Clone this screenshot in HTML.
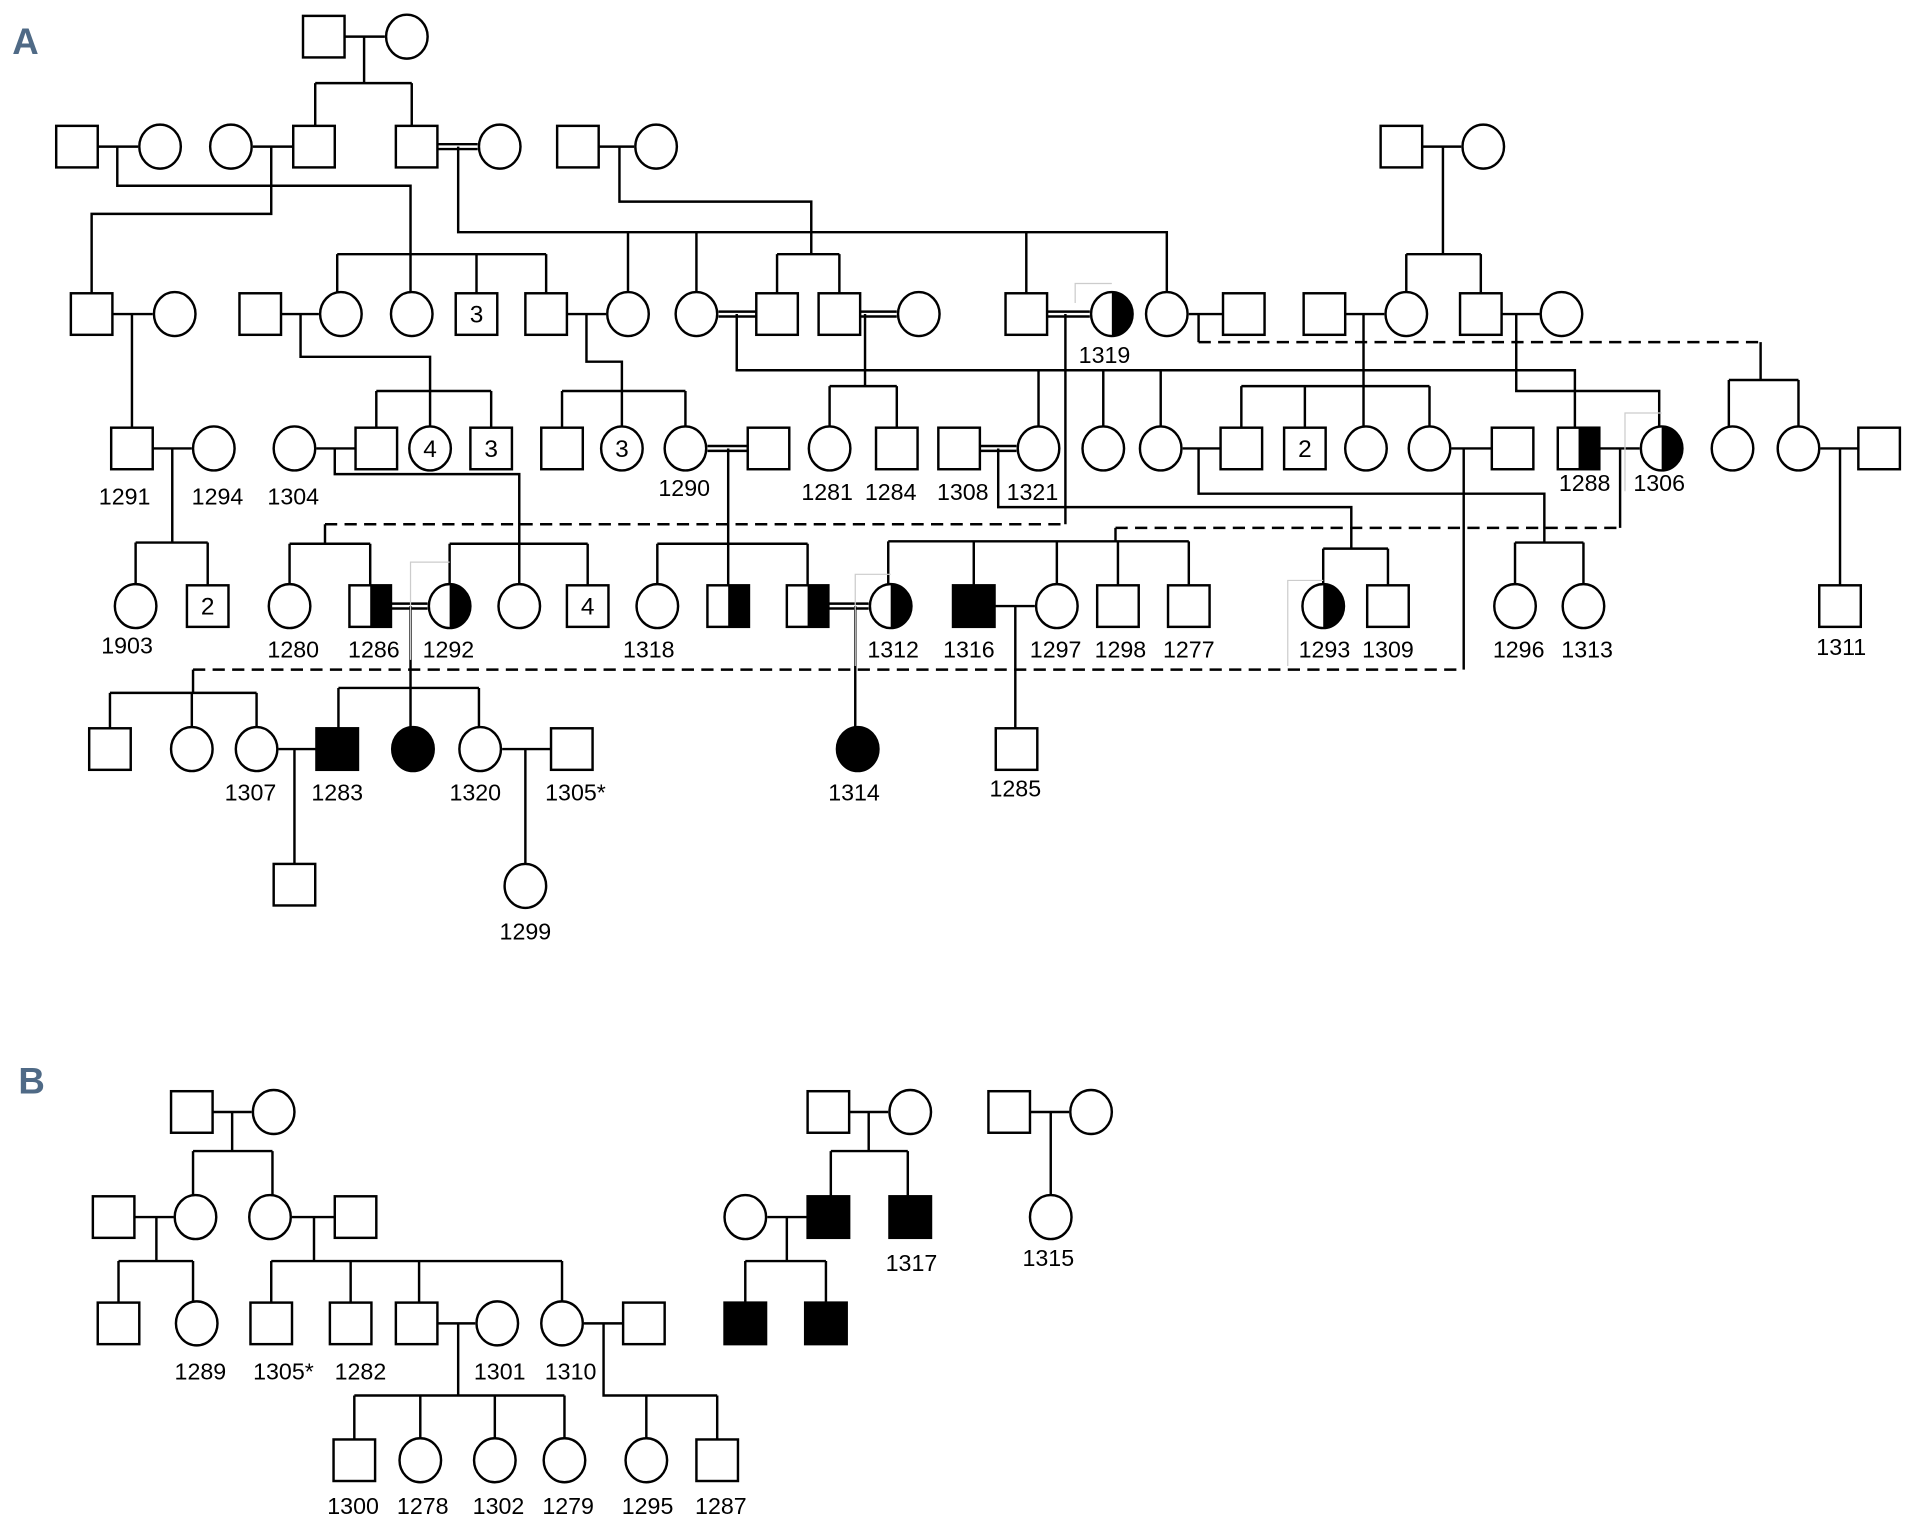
<!DOCTYPE html>
<html><head><meta charset="utf-8"><style>
html,body{margin:0;padding:0;background:#fff}
svg{display:block}
text{font-family:"Liberation Sans Narrow","Liberation Sans",sans-serif;font-size:19px;fill:#000}
.n{text-anchor:middle}
.c{text-anchor:middle;font-size:20px}
.lbl{font-family:"Liberation Sans Narrow","Liberation Sans",sans-serif;font-weight:bold;font-size:30px;fill:#4f6a86}
</style></head><body>
<svg width="1906" height="1525" viewBox="0 0 1560 1248" preserveAspectRatio="none" xmlns="http://www.w3.org/2000/svg">
<defs>
<rect id="s" x="-17" y="-17" width="34" height="34" fill="#fff" stroke="#000" stroke-width="2"/>
<rect id="sf" x="-17" y="-17" width="34" height="34" fill="#000" stroke="#000" stroke-width="2"/>
<ellipse id="c" rx="17" ry="18" fill="#fff" stroke="#000" stroke-width="2"/>
<ellipse id="cf" rx="17" ry="18" fill="#000" stroke="#000" stroke-width="2"/>
<g id="sh"><rect x="-17" y="-17" width="34" height="34" fill="#fff" stroke="#000" stroke-width="2"/><rect x="0" y="-17" width="17" height="34" fill="#000"/></g>
<g id="ch"><ellipse rx="17" ry="18" fill="#fff" stroke="#000" stroke-width="2"/><path d="M0,-18 A17,18 0 0 1 0,18 Z" fill="#000"/></g>
</defs>
<text class="lbl" x="10" y="44">A</text>
<text class="lbl" x="15" y="895">B</text>
<g stroke="#000" stroke-width="2" fill="none">
<!-- row0 -->
<path d="M282,30H315M298,30V68M258,68H337M258,68V103M337,68V103"/>
<!-- row1 couples -->
<path d="M80,120H113M207,120H240M490,120H519M1164,120H1196"/>
<path d="M358,118H391M358,122H391"/>
<path d="M96,120V152H336V239M222,120V175H75V240"/>
<path d="M375,120V190H955V239M514,190V240M570,190V240M840,190V240"/>
<path d="M507,120V165H664V208M636,208H687M636,208V240M687,208V240"/>
<path d="M276,208H447M276,208V240M390,208V240M447,208V240"/>
<path d="M1181,120V208M1151,208H1212M1151,208V240M1212,208V240"/>
<!-- row2 couples -->
<path d="M92,257H125M230,257H261M464,257H496M973,257H1001M1101,257H1133M1229,257H1260"/>
<path d="M588,255H619M588,259H619M704,255H734M704,259H734M857,255H892M857,259H892"/>
<path d="M108,257V350"/>
<path d="M246,257V292H352V320M308,320H402M308,320V350M352,320V349M402,320V350"/>
<path d="M480,257V296H509V320M460,320H561M460,320V350M509,320V349M561,320V349"/>
<path d="M603,257V303H1289V350M850,303V349M903,303V349M950,303V349"/>
<path d="M708,257V316M679,316H734M679,316V349M734,316V350"/>
<path d="M872,257V429"/>
<path d="M266,429H872" stroke-dasharray="10,6"/>
<path d="M266,429V445M237,445H303M237,445V478M303,445V479"/>
<path d="M981,257V280"/>
<path d="M981,280H1441" stroke-dasharray="10,6"/>
<path d="M1441,280V311M1415,311H1472M1415,311V349M1472,311V349"/>
<path d="M1116,257V349M1016,316H1170M1016,316V350M1068,316V350M1170,316V349"/>
<path d="M1241,257V320H1358V349"/>
<!-- row3 couples -->
<path d="M125,367H157M259,367H291M968,367H999M1188,367H1221M1309,367H1342M1490,367H1521"/>
<path d="M579,365H612M579,369H612M802,365H832M802,369H832"/>
<path d="M141,367V444M111,444H170M111,444V478M170,444V479"/>
<path d="M274,367V388H425V478M368,445H481M368,445V478M481,445V479"/>
<path d="M596,367V479M538,445H661M538,445V478M661,445V479"/>
<path d="M817,367V415H1106V449M1083,449H1136M1083,449V478M1136,449V479"/>
<path d="M981,367V404H1264V444M1240,444H1296M1240,444V478M1296,444V478"/>
<path d="M1198,367V548"/>
<path d="M158,548H1198" stroke-dasharray="10,6"/>
<path d="M158,548V567M90,567H210M90,567V596M157,567V595M210,567V595"/>
<path d="M1326,367V432"/>
<path d="M913,432H1326" stroke-dasharray="10,6"/>
<path d="M913,432V443M727,443H973M727,443V478M797,443V479M865,443V478M915,443V479M973,443V479"/>
<path d="M1506,367V479"/>
<!-- row4 -->
<path d="M320,494H350M320,498H350M678,494H711M678,498H711M814,496H847"/>
<path d="M336,496V595M277,563H392M277,563V596M392,563V595"/>
<path d="M700,496V595M831,496V596"/>
<!-- row5 -->
<path d="M228,613H259M411,613H451M241,613V707M430,613V707"/>
<!-- panel B -->
<path d="M174,910H206M695,910H727M843,910H875"/>
<path d="M190,910V942M158,942H223M158,942V978M223,942V978"/>
<path d="M711,910V942M680,942H743M680,942V979M743,942V979"/>
<path d="M860,910V978"/>
<path d="M110,996H142M239,996H274M628,996H661"/>
<path d="M128,996V1032M97,1032H158M97,1032V1066M158,1032V1065"/>
<path d="M257,996V1032M222,1032H460M222,1032V1066M287,1032V1066M343,1032V1066M460,1032V1065"/>
<path d="M644,996V1032M610,1032H676M610,1032V1066M676,1032V1066"/>
<path d="M358,1083H389M478,1083H510"/>
<path d="M375,1083V1142M290,1142H462M290,1142V1178M344,1142V1177M405,1142V1177M462,1142V1177"/>
<path d="M494,1083V1142H587M529,1142V1177M587,1142V1178"/>
</g>
<!-- faint boxes -->
<g stroke="#ccc" stroke-width="1" fill="none">
<path d="M880,248V232H910"/><path d="M1330,402V338H1360"/><path d="M336,540V460H368"/><path d="M700,545V470H729"/><path d="M1054,545V475H1083"/>
</g>
<!-- shapes -->
<use href="#s" x="265" y="30"/><use href="#c" x="333" y="30"/>
<use href="#s" x="63" y="120"/><use href="#c" x="131" y="120"/><use href="#c" x="189" y="120"/><use href="#s" x="257" y="120"/><use href="#s" x="341" y="120"/><use href="#c" x="409" y="120"/><use href="#s" x="473" y="120"/><use href="#c" x="537" y="120"/><use href="#s" x="1147" y="120"/><use href="#c" x="1214" y="120"/>
<use href="#s" x="75" y="257"/><use href="#c" x="143" y="257"/><use href="#s" x="213" y="257"/><use href="#c" x="279" y="257"/><use href="#c" x="337" y="257"/><use href="#s" x="390" y="257"/><use href="#s" x="447" y="257"/><use href="#c" x="514" y="257"/><use href="#c" x="570" y="257"/><use href="#s" x="636" y="257"/><use href="#s" x="687" y="257"/><use href="#c" x="752" y="257"/><use href="#s" x="840" y="257"/><use href="#ch" x="910" y="257"/><use href="#c" x="955" y="257"/><use href="#s" x="1018" y="257"/><use href="#s" x="1084" y="257"/><use href="#c" x="1151" y="257"/><use href="#s" x="1212" y="257"/><use href="#c" x="1278" y="257"/>
<use href="#s" x="108" y="367"/><use href="#c" x="175" y="367"/><use href="#c" x="241" y="367"/><use href="#s" x="308" y="367"/><use href="#c" x="352" y="367"/><use href="#s" x="402" y="367"/><use href="#s" x="460" y="367"/><use href="#c" x="509" y="367"/><use href="#c" x="561" y="367"/><use href="#s" x="629" y="367"/><use href="#c" x="679" y="367"/><use href="#s" x="734" y="367"/><use href="#s" x="785" y="367"/><use href="#c" x="850" y="367"/><use href="#c" x="903" y="367"/><use href="#c" x="950" y="367"/><use href="#s" x="1016" y="367"/><use href="#s" x="1068" y="367"/><use href="#c" x="1118" y="367"/><use href="#c" x="1170" y="367"/><use href="#s" x="1238" y="367"/><use href="#sh" x="1292" y="367"/><use href="#ch" x="1360" y="367"/><use href="#c" x="1418" y="367"/><use href="#c" x="1472" y="367"/><use href="#s" x="1538" y="367"/>
<use href="#c" x="111" y="496"/><use href="#s" x="170" y="496"/><use href="#c" x="237" y="496"/><use href="#sh" x="303" y="496"/><use href="#ch" x="368" y="496"/><use href="#c" x="425" y="496"/><use href="#s" x="481" y="496"/><use href="#c" x="538" y="496"/><use href="#sh" x="596" y="496"/><use href="#sh" x="661" y="496"/><use href="#ch" x="729" y="496"/><use href="#sf" x="797" y="496"/><use href="#c" x="865" y="496"/><use href="#s" x="915" y="496"/><use href="#s" x="973" y="496"/><use href="#ch" x="1083" y="496"/><use href="#s" x="1136" y="496"/><use href="#c" x="1240" y="496"/><use href="#c" x="1296" y="496"/><use href="#s" x="1506" y="496"/>
<use href="#s" x="90" y="613"/><use href="#c" x="157" y="613"/><use href="#c" x="210" y="613"/><use href="#sf" x="276" y="613"/><use href="#cf" x="338" y="613"/><use href="#c" x="393" y="613"/><use href="#s" x="468" y="613"/><use href="#cf" x="702" y="613"/><use href="#s" x="832" y="613"/>
<use href="#s" x="241" y="724"/><use href="#c" x="430" y="725"/>
<use href="#s" x="157" y="910"/><use href="#c" x="224" y="910"/><use href="#s" x="678" y="910"/><use href="#c" x="745" y="910"/><use href="#s" x="826" y="910"/><use href="#c" x="893" y="910"/>
<use href="#s" x="93" y="996"/><use href="#c" x="160" y="996"/><use href="#c" x="221" y="996"/><use href="#s" x="291" y="996"/><use href="#c" x="610" y="996"/><use href="#sf" x="678" y="996"/><use href="#sf" x="745" y="996"/><use href="#c" x="860" y="996"/>
<use href="#s" x="97" y="1083"/><use href="#c" x="161" y="1083"/><use href="#s" x="222" y="1083"/><use href="#s" x="287" y="1083"/><use href="#s" x="341" y="1083"/><use href="#c" x="407" y="1083"/><use href="#c" x="460" y="1083"/><use href="#s" x="527" y="1083"/><use href="#sf" x="610" y="1083"/><use href="#sf" x="676" y="1083"/>
<use href="#s" x="290" y="1195"/><use href="#c" x="344" y="1195"/><use href="#c" x="405" y="1195"/><use href="#c" x="462" y="1195"/><use href="#c" x="529" y="1195"/><use href="#s" x="587" y="1195"/>
<!-- inner counts -->
<text class="c" x="390" y="264">3</text><text class="c" x="352" y="374">4</text><text class="c" x="402" y="374">3</text><text class="c" x="509" y="374">3</text><text class="c" x="1068" y="374">2</text><text class="c" x="170" y="503">2</text><text class="c" x="481" y="503">4</text>
<!-- labels -->
<text class="n" x="904" y="297">1319</text>
<text class="n" x="102" y="413">1291</text><text class="n" x="178" y="413">1294</text><text class="n" x="240" y="413">1304</text><text class="n" x="560" y="406">1290</text><text class="n" x="677" y="409">1281</text><text class="n" x="729" y="409">1284</text><text class="n" x="788" y="409">1308</text><text class="n" x="845" y="409">1321</text><text class="n" x="1297" y="402">1288</text><text class="n" x="1358" y="402">1306</text>
<text class="n" x="104" y="535">1903</text><text class="n" x="240" y="538">1280</text><text class="n" x="306" y="538">1286</text><text class="n" x="367" y="538">1292</text><text class="n" x="531" y="538">1318</text><text class="n" x="731" y="538">1312</text><text class="n" x="793" y="538">1316</text><text class="n" x="864" y="538">1297</text><text class="n" x="917" y="538">1298</text><text class="n" x="973" y="538">1277</text><text class="n" x="1084" y="538">1293</text><text class="n" x="1136" y="538">1309</text><text class="n" x="1243" y="538">1296</text><text class="n" x="1299" y="538">1313</text><text class="n" x="1507" y="536">1311</text>
<text class="n" x="205" y="655">1307</text><text class="n" x="276" y="655">1283</text><text class="n" x="389" y="655">1320</text><text class="n" x="471" y="655">1305*</text><text class="n" x="699" y="655">1314</text><text class="n" x="831" y="652">1285</text><text class="n" x="430" y="769">1299</text>
<text class="n" x="746" y="1040">1317</text><text class="n" x="858" y="1036">1315</text>
<text class="n" x="164" y="1129">1289</text><text class="n" x="232" y="1129">1305*</text><text class="n" x="295" y="1129">1282</text><text class="n" x="409" y="1129">1301</text><text class="n" x="467" y="1129">1310</text>
<text class="n" x="289" y="1239">1300</text><text class="n" x="346" y="1239">1278</text><text class="n" x="408" y="1239">1302</text><text class="n" x="465" y="1239">1279</text><text class="n" x="530" y="1239">1295</text><text class="n" x="590" y="1239">1287</text>
</svg>
</body></html>
